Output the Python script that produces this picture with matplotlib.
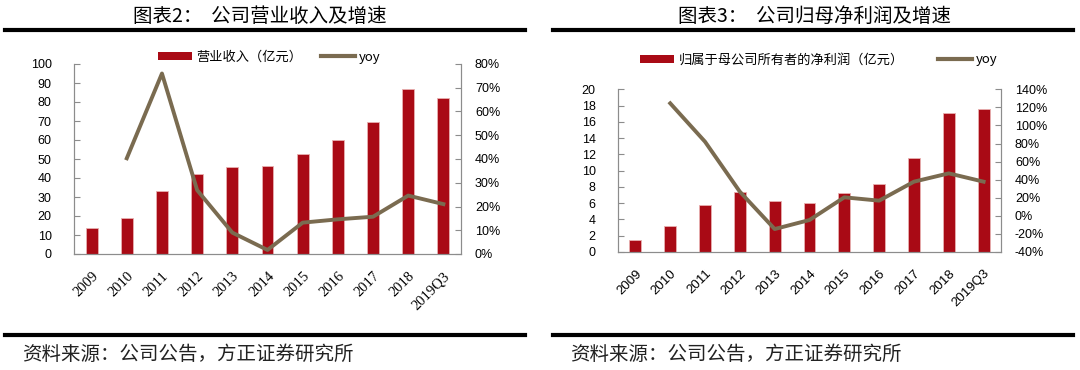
import matplotlib

matplotlib.use("Agg")

import matplotlib.pyplot as plt
import numpy as np
from matplotlib.lines import Line2D
from matplotlib.patches import Patch
from matplotlib.ticker import FuncFormatter, MultipleLocator

plt.rcParams["font.family"] = ["Liberation Sans", "Noto Sans CJK SC", "DejaVu Sans"]

years = ["2009", "2010", "2011", "2012", "2013", "2014", "2015", "2016", "2017", "2018", "2019Q3"]

# 图表2: 营业收入 (亿元) and yoy (%)
revenue = [13.8, 18.8, 33.3, 42.1, 45.6, 46.3, 52.5, 60.0, 69.6, 86.8, 81.9]
revenue_yoy = [np.nan, 40.3, 76.0, 26.9, 9.0, 1.7, 13.2, 14.6, 15.7, 24.6, 21.0]

# 图表3: 归母净利润 (亿元) and yoy (%)
profit = [1.43, 3.2, 5.78, 7.34, 6.3, 6.06, 7.2, 8.36, 11.5, 17.1, 17.6]
profit_yoy = [np.nan, 124.5, 82.0, 26.7, -14.6, -4.6, 20.5, 16.8, 37.8, 47.0, 37.8]

BAR_RED = "#A90A15"
LINE_BROWN = "#7A6B50"
SPINE = "#8C8C8C"
CJK = ["Noto Sans CJK SC", "DejaVu Sans"]


def draw_panel(fig, rect, bars, yoy, bar_label, ylim, ystep, y2lim, y2step,
               year_font, year_size, legend_pos, colspace):
    ax = fig.add_axes(rect)
    ax2 = ax.twinx()
    x = np.arange(len(years))
    ax.bar(x, bars, width=0.34, color=BAR_RED, edgecolor="#E8B0B0", linewidth=0.6, zorder=2)
    ax2.plot(x, yoy, color=LINE_BROWN, linewidth=2.8, zorder=3)

    ax.set_ylim(*ylim)
    ax.yaxis.set_major_locator(MultipleLocator(ystep))
    ax2.set_ylim(*y2lim)
    ax2.yaxis.set_major_locator(MultipleLocator(y2step))
    ax2.yaxis.set_major_formatter(FuncFormatter(lambda v, _: f"{v:.0f}%"))
    ax.set_zorder(ax2.get_zorder() - 1)
    ax.patch.set_visible(False)

    for a in (ax, ax2):
        a.spines["top"].set_visible(False)
        for sp in ("left", "bottom", "right"):
            a.spines[sp].set_color(SPINE)
    ax.tick_params(axis="y", direction="in", length=4, color=SPINE, labelsize=9, pad=16)
    ax2.tick_params(axis="y", direction="in", length=4, color=SPINE, labelsize=9, pad=10)
    ax.tick_params(axis="x", length=0, pad=11)
    ax.set_xticks(x)
    ax.set_xticklabels(years, rotation=45, ha="right", rotation_mode="anchor",
                       fontsize=year_size, family=year_font)
    ax.set_xlim(-0.5, len(years) - 0.5)

    handles = [
        Patch(facecolor=BAR_RED, edgecolor="none", label=bar_label),
        Line2D([], [], color=LINE_BROWN, linewidth=3, label="yoy"),
    ]
    fig.legend(
        handles=handles,
        loc="center left",
        bbox_to_anchor=legend_pos,
        ncol=2,
        frameon=False,
        borderpad=0.0,
        borderaxespad=0.0,
        handlelength=2.6,
        handleheight=0.55,
        handletextpad=0.3,
        columnspacing=colspace,
        prop={"family": CJK, "size": 9.5},
    )
    return ax, ax2


fig = plt.figure(figsize=(10.8, 3.7), dpi=100)

draw_panel(
    fig,
    [74 / 1080, 1 - 254 / 370, (461 - 74) / 1080, (254 - 64) / 370],
    revenue,
    revenue_yoy,
    "营业收入（亿元）",
    (0, 100),
    10,
    (0, 80),
    10,
    "Liberation Serif",
    10.5,
    (158 / 1080, 1 - 57 / 370),
    1.4,
)
draw_panel(
    fig,
    [618 / 1080, 1 - 252 / 370, (1001 - 618) / 1080, (252 - 89.3) / 370],
    profit,
    profit_yoy,
    "归属于母公司所有者的净利润（亿元）",
    (0, 20),
    2,
    (-40, 140),
    20,
    "Liberation Sans",
    9.5,
    (640 / 1080, 1 - 60 / 370),
    2.6,
)

# titles and rules
fig.text(260 / 1080, 1 - 16 / 370, "图表2：  公司营业收入及增速", ha="center", va="center",
         family=CJK, fontsize=14)
fig.text(814 / 1080, 1 - 16 / 370, "图表3：  公司归母净利润及增速", ha="center", va="center",
         family=CJK, fontsize=14)
for x0, x1 in [(5, 525), (553, 1073)]:
    for y in (30, 335):
        fig.add_artist(Line2D([x0 / 1080, x1 / 1080], [1 - y / 370, 1 - y / 370],
                              color="black", linewidth=3.0, transform=fig.transFigure))
for x0 in (22, 570):
    fig.text(x0 / 1080, 1 - 354 / 370, "资料来源：公司公告，方正证券研究所", ha="left", va="center",
             family=CJK, fontsize=14, style="italic", color="#222222")

fig.savefig("out.png", dpi=100, facecolor="white")
